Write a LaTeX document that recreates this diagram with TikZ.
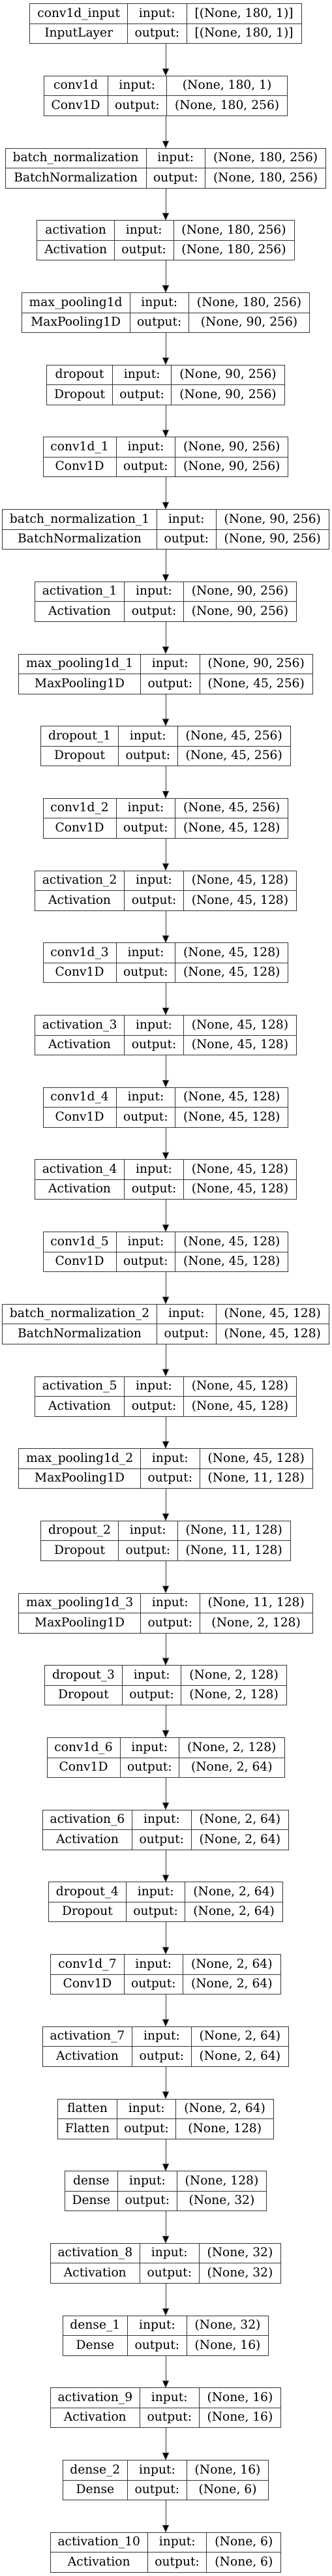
\documentclass[tikz,border=0pt]{standalone}
\usepackage{fontspec}
\setmainfont{DejaVu Serif}
\usetikzlibrary{arrows.meta}
\newlength\lwA \newlength\lwB \newlength\lwC \newlength\lwD
\newcommand\lfont{\fontsize{14pt}{16pt}\selectfont}
\newcommand\measuretext[2]{\pgfinterruptpicture\setbox0=\hbox{\lfont #2}\global#1=\wd0\relax\endpgfinterruptpicture}
\def\padA{17.1}
\def\padB{16.5}
\def\padC{18.7}
\tikzset{
  layerbox/.style={draw=black!80, line width=0.75pt, inner sep=0pt, outer sep=0pt, minimum height=45.75pt, anchor=north},
  sepline/.style={draw=black!80, line width=0.75pt},
  lbl/.style={anchor=base, inner sep=0pt, font=\lfont, text=black},
  edge/.style={draw=black!80, line width=0.75pt, -{Triangle[length=8.5pt,width=7.5pt,fill=black]}}
}
\newcommand\kerasnode[6]{%
  \measuretext\lwA{#3}\measuretext\lwB{#4}%
  \ifdim\lwB>\lwA \global\lwA=\lwB\fi
  \measuretext\lwC{#5}\measuretext\lwD{#6}%
  \ifdim\lwD>\lwC \global\lwC=\lwD\fi
  \measuretext\lwB{output:}%
  \pgfmathsetmacro\cA{\lwA+\padA}%
  \pgfmathsetmacro\cB{\lwB+\padB}%
  \pgfmathsetmacro\cC{\lwC+\padC}%
  \pgfmathsetmacro\W{\cA+\cB+\cC}%
  \pgfmathsetmacro\xL{190.5-\W/2}%
  \pgfmathsetmacro\yT{-(5.7+#2*110.7)*0.75}%
  \pgfmathsetmacro\yB{\yT-45.75}%
  \pgfmathsetmacro\xA{\xL+\cA/2}%
  \pgfmathsetmacro\xB{\xL+\cA+\cB/2}%
  \pgfmathsetmacro\xC{\xL+\cA+\cB+\cC/2}%
  \pgfmathsetmacro\vA{\xL+\cA}%
  \pgfmathsetmacro\vB{\xL+\cA+\cB}%
  \pgfmathsetmacro\bA{\yT-15.4}%
  \pgfmathsetmacro\bB{\yT-38.25}%
  \node[layerbox, minimum width=\W pt] (#1) at (190.5pt,\yT pt) {};
  \draw[sepline] (#1.west) -- (#1.east);
  \draw[sepline] (\vA pt,\yT pt) -- (\vA pt,\yB pt);
  \draw[sepline] (\vB pt,\yT pt) -- (\vB pt,\yB pt);
  \node[lbl] (#1-name) at (\xA pt,\bA pt) {#3};
  \node[lbl] (#1-class) at (\xA pt,\bB pt) {#4};
  \node[lbl] (#1-inl) at (\xB pt,\bA pt) {input:};
  \node[lbl] (#1-outl) at (\xB pt,\bB pt) {output:};
  \node[lbl] (#1-in) at (\xC pt,\bA pt) {#5};
  \node[lbl] (#1-out) at (\xC pt,\bB pt) {#6};
}
\begin{document}
\begin{tikzpicture}
\useasboundingbox (0,0) rectangle (381pt,-2960.25pt);
\kerasnode{n0}{0}{conv1d\_input}{InputLayer}{[(None, 180, 1)]}{[(None, 180, 1)]}
\kerasnode{n1}{1}{conv1d}{Conv1D}{(None, 180, 1)}{(None, 180, 256)}
\kerasnode{n2}{2}{batch\_normalization}{BatchNormalization}{(None, 180, 256)}{(None, 180, 256)}
\kerasnode{n3}{3}{activation}{Activation}{(None, 180, 256)}{(None, 180, 256)}
\kerasnode{n4}{4}{max\_pooling1d}{MaxPooling1D}{(None, 180, 256)}{(None, 90, 256)}
\kerasnode{n5}{5}{dropout}{Dropout}{(None, 90, 256)}{(None, 90, 256)}
\kerasnode{n6}{6}{conv1d\_1}{Conv1D}{(None, 90, 256)}{(None, 90, 256)}
\kerasnode{n7}{7}{batch\_normalization\_1}{BatchNormalization}{(None, 90, 256)}{(None, 90, 256)}
\kerasnode{n8}{8}{activation\_1}{Activation}{(None, 90, 256)}{(None, 90, 256)}
\kerasnode{n9}{9}{max\_pooling1d\_1}{MaxPooling1D}{(None, 90, 256)}{(None, 45, 256)}
\kerasnode{n10}{10}{dropout\_1}{Dropout}{(None, 45, 256)}{(None, 45, 256)}
\kerasnode{n11}{11}{conv1d\_2}{Conv1D}{(None, 45, 256)}{(None, 45, 128)}
\kerasnode{n12}{12}{activation\_2}{Activation}{(None, 45, 128)}{(None, 45, 128)}
\kerasnode{n13}{13}{conv1d\_3}{Conv1D}{(None, 45, 128)}{(None, 45, 128)}
\kerasnode{n14}{14}{activation\_3}{Activation}{(None, 45, 128)}{(None, 45, 128)}
\kerasnode{n15}{15}{conv1d\_4}{Conv1D}{(None, 45, 128)}{(None, 45, 128)}
\kerasnode{n16}{16}{activation\_4}{Activation}{(None, 45, 128)}{(None, 45, 128)}
\kerasnode{n17}{17}{conv1d\_5}{Conv1D}{(None, 45, 128)}{(None, 45, 128)}
\kerasnode{n18}{18}{batch\_normalization\_2}{BatchNormalization}{(None, 45, 128)}{(None, 45, 128)}
\kerasnode{n19}{19}{activation\_5}{Activation}{(None, 45, 128)}{(None, 45, 128)}
\kerasnode{n20}{20}{max\_pooling1d\_2}{MaxPooling1D}{(None, 45, 128)}{(None, 11, 128)}
\kerasnode{n21}{21}{dropout\_2}{Dropout}{(None, 11, 128)}{(None, 11, 128)}
\kerasnode{n22}{22}{max\_pooling1d\_3}{MaxPooling1D}{(None, 11, 128)}{(None, 2, 128)}
\kerasnode{n23}{23}{dropout\_3}{Dropout}{(None, 2, 128)}{(None, 2, 128)}
\kerasnode{n24}{24}{conv1d\_6}{Conv1D}{(None, 2, 128)}{(None, 2, 64)}
\kerasnode{n25}{25}{activation\_6}{Activation}{(None, 2, 64)}{(None, 2, 64)}
\kerasnode{n26}{26}{dropout\_4}{Dropout}{(None, 2, 64)}{(None, 2, 64)}
\kerasnode{n27}{27}{conv1d\_7}{Conv1D}{(None, 2, 64)}{(None, 2, 64)}
\kerasnode{n28}{28}{activation\_7}{Activation}{(None, 2, 64)}{(None, 2, 64)}
\kerasnode{n29}{29}{flatten}{Flatten}{(None, 2, 64)}{(None, 128)}
\kerasnode{n30}{30}{dense}{Dense}{(None, 128)}{(None, 32)}
\kerasnode{n31}{31}{activation\_8}{Activation}{(None, 32)}{(None, 32)}
\kerasnode{n32}{32}{dense\_1}{Dense}{(None, 32)}{(None, 16)}
\kerasnode{n33}{33}{activation\_9}{Activation}{(None, 16)}{(None, 16)}
\kerasnode{n34}{34}{dense\_2}{Dense}{(None, 16)}{(None, 6)}
\kerasnode{n35}{35}{activation\_10}{Activation}{(None, 6)}{(None, 6)}
\foreach \a [evaluate=\a as \b using int(\a+1)] in {0,...,34}
  \draw[edge] (n\a.south) -- (n\b.north);
\end{tikzpicture}
\end{document}
